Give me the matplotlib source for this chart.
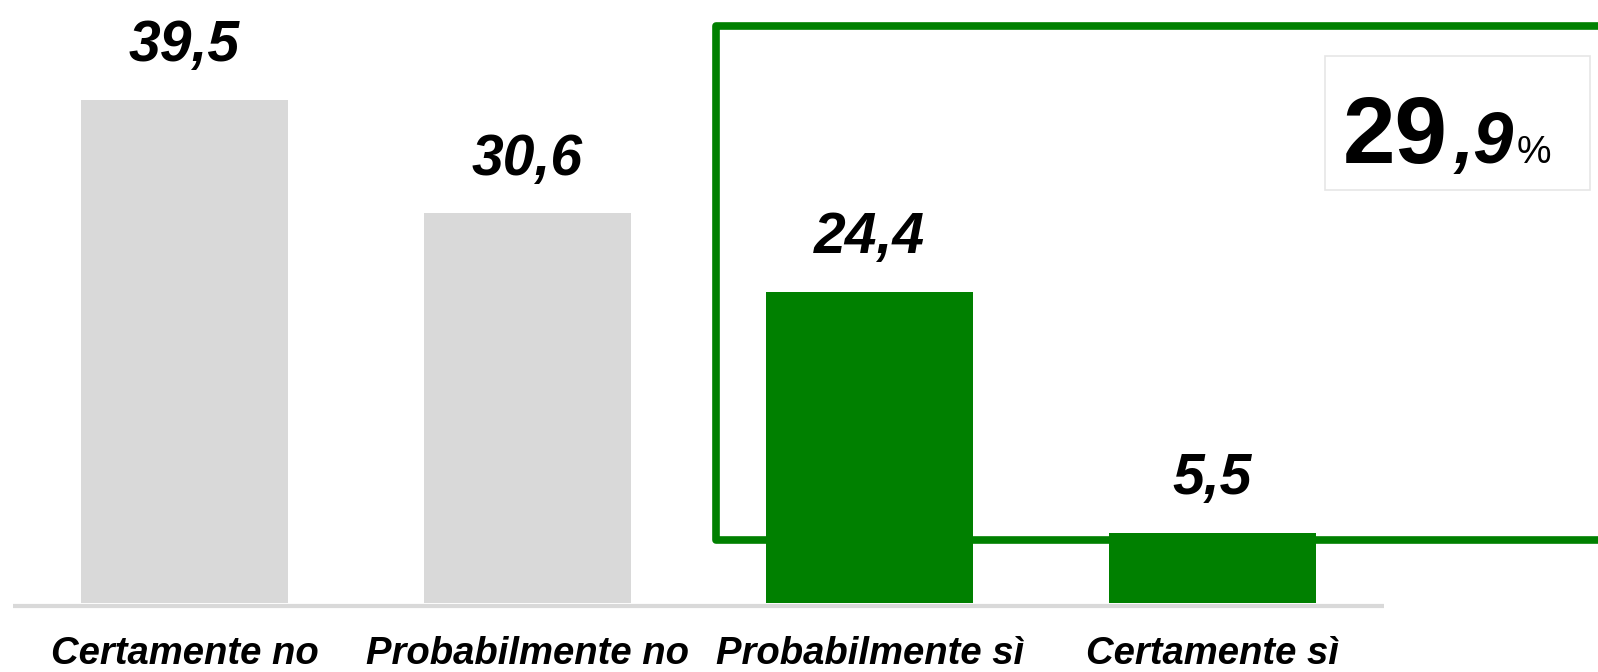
import matplotlib
matplotlib.use("Agg")
import matplotlib.pyplot as plt
from matplotlib.patches import Rectangle

categories = ["Certamente no", "Probabilmente no", "Probabilmente sì", "Certamente sì"]
values = [39.5, 30.6, 24.4, 5.5]
value_labels = ["39,5", "30,6", "24,4", "5,5"]
colors = ["#d9d9d9", "#d9d9d9", "#008000", "#008000"]
total_big = "29"
total_small = ",9"
total_unit = "%"

W, H = 1598, 672
fig = plt.figure(figsize=(W / 100, H / 100), dpi=100)
FONT = "Liberation Sans"

base_px = 603
ax = fig.add_axes([0, (H - base_px) / H, 1, base_px / H])
px_per_unit = 12.73
ax.set_ylim(0, base_px / px_per_unit)
sp = 342.7
x0 = 184.5
ax.set_xlim(-x0 / sp, (W - x0) / sp)
ax.axis("off")

xs = list(range(len(categories)))

# green frame (drawn beneath bars)
fx = (716 - x0) / sp
ftop = (base_px - 26) / px_per_unit
fbot = (base_px - 540) / px_per_unit
ax.plot([5, fx, fx, 5], [ftop, ftop, fbot, fbot], color="#008000", lw=5.5,
        solid_joinstyle="round", zorder=1)

ax.bar(xs, values, width=0.604, color=colors, zorder=2)

# baseline
ax.plot([-0.5, 3.5], [-0.24, -0.24], color="#d9d9d9", lw=3, zorder=3,
        solid_capstyle="butt", clip_on=False)

for x, v, lab in zip(xs, values, value_labels):
    ax.annotate(lab, (x, v), xytext=(0, 28), textcoords="offset points",
                ha="center", va="baseline", fontsize=41, fontweight="bold",
                fontstyle="italic", family=FONT, color="black")

for x, c in zip(xs, categories):
    ax.annotate(c, (x, 0), xytext=(0, -44), textcoords="offset points",
                ha="center", va="baseline", fontsize=27.5, fontweight="bold",
                fontstyle="italic", family=FONT, color="black", annotation_clip=False)

# total box
fig.patches.append(Rectangle((1325 / W, 1 - 190 / H), (1590 - 1325) / W, (190 - 56) / H,
                             transform=fig.transFigure, facecolor="white",
                             edgecolor="#e6e6e6", lw=1.2, zorder=5))
fig.canvas.draw()
renderer = fig.canvas.get_renderer()
t1 = fig.text(1343 / W, 1 - 163 / H, total_big, fontsize=68, fontweight="bold",
              family=FONT, ha="left", va="baseline", zorder=6)
bb = t1.get_window_extent(renderer)
t2 = fig.text(bb.x1 / W + 6 / W, 1 - 163 / H, total_small, fontsize=52, fontweight="bold",
              fontstyle="italic", family=FONT, ha="left", va="baseline", zorder=6)
bb2 = t2.get_window_extent(renderer)
fig.text(bb2.x1 / W + 2 / W, 1 - 163 / H, total_unit, fontsize=28, family=FONT,
         ha="left", va="baseline", zorder=6)

fig.savefig("out.png", dpi=100)
